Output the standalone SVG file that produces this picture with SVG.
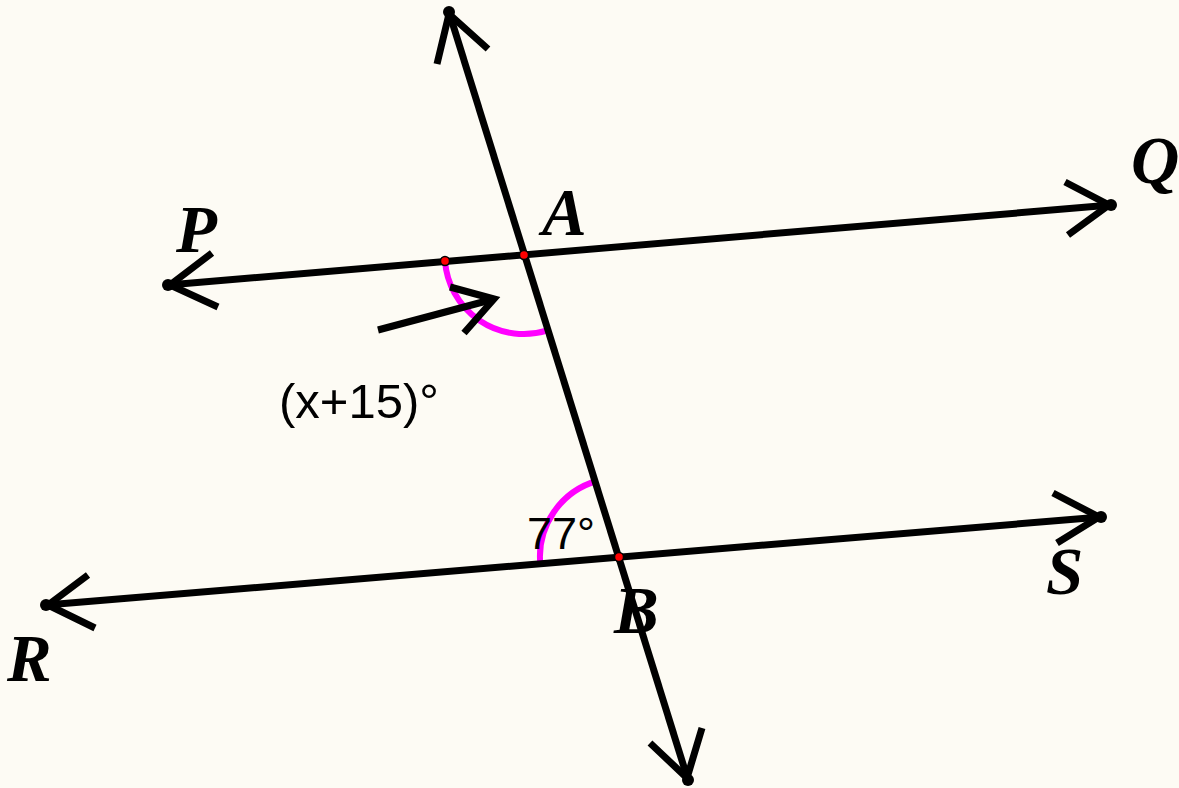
<svg xmlns="http://www.w3.org/2000/svg" width="1179" height="788" viewBox="0 0 1179 788">
<style>
.ln{stroke:#000;stroke-width:7;fill:none;stroke-linecap:butt}
.arc{stroke:#ff00ff;stroke-width:6;fill:none}
.dot{fill:#000}
.rd{fill:#ff0000;stroke:#000;stroke-width:1.5}
.lbl{font-family:"Liberation Serif",serif;font-style:italic;font-weight:bold;font-size:67px;fill:#000}
.ang{font-family:"Liberation Sans",Arial,sans-serif;font-size:49px;fill:#000}
</style>
<rect width="1179" height="788" fill="#fdfbf4"/>
<g id="angle-marks">
<path class="arc" d="M445,261 A79,79 0 0 0 547.5,330.4"/>
<path class="arc" d="M540.3,564 A79,79 0 0 1 596.5,481"/>
</g>
<g id="connectors">
<line class="ln" x1="449" y1="12" x2="688" y2="780"/>
<polyline class="ln" points="437,64 449,14 488,49"/>
<polyline class="ln" points="650,743 687,778 702,728"/>
<line class="ln" x1="168" y1="285" x2="1111" y2="205"/>
<polyline class="ln" points="212,253 170,285 218,307"/>
<polyline class="ln" points="1065,182 1109,205 1068,235"/>
<line class="ln" x1="46" y1="605" x2="1101" y2="517"/>
<polyline class="ln" points="88,575 48,605 95,628"/>
<polyline class="ln" points="1053,493 1099,517 1057,543"/>
<line class="ln" x1="378" y1="330" x2="494" y2="299"/>
<polyline class="ln" points="450,287 494,299 464,333"/>
</g>
<g id="endpoints">
<circle class="dot" cx="449" cy="12" r="6"/>
<circle class="dot" cx="688" cy="780" r="6"/>
<circle class="dot" cx="168" cy="285" r="6"/>
<circle class="dot" cx="1111" cy="205" r="6"/>
<circle class="dot" cx="46" cy="605" r="6"/>
<circle class="dot" cx="1101" cy="517" r="6"/>
</g>
<g id="point-A"><circle class="rd" cx="524" cy="255" r="4.5"/><text class="lbl" x="542" y="235">A</text></g>
<g id="point-B"><circle class="rd" cx="619" cy="557" r="4.5"/><text class="lbl" x="614" y="633">B</text></g>
<g id="point-C"><circle class="rd" cx="445" cy="261" r="4.5"/></g>
<g id="label-P"><text class="lbl" x="176" y="252">P</text></g>
<g id="label-Q"><text class="lbl" x="1131" y="183">Q</text></g>
<g id="label-R"><text class="lbl" x="7" y="681">R</text></g>
<g id="label-S"><text class="lbl" x="1046" y="594">S</text></g>
<g id="angle-1"><text class="ang" x="279" y="418">(x+15)°</text></g>
<g id="angle-2"><text class="ang" x="527" y="549" style="font-size:45px">77°</text></g>
</svg>
